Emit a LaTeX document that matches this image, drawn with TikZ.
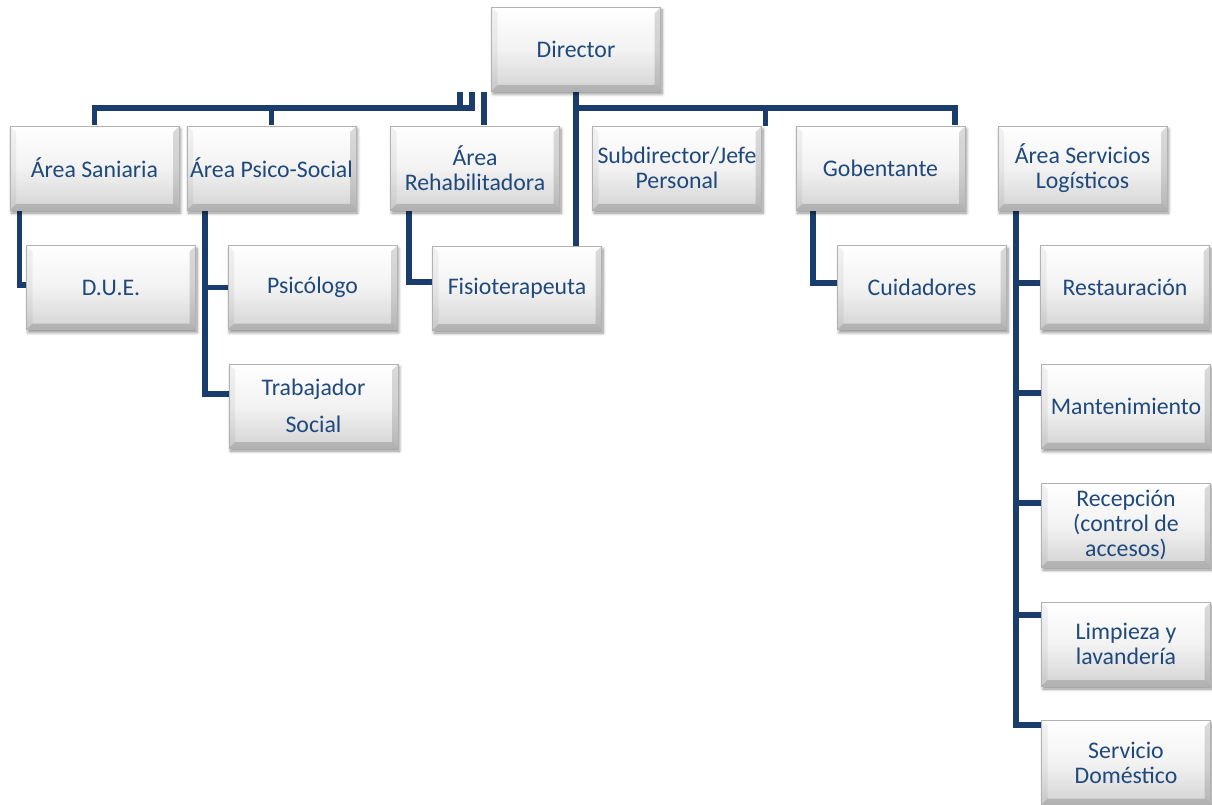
\documentclass[tikz,border=0pt]{standalone}
\usepackage{fontspec}
\setmainfont{Carlito}
\usetikzlibrary{shadows.blur,backgrounds}
\definecolor{txtblue}{HTML}{1F497D}
\definecolor{linenavy}{HTML}{1B3D6D}
\begin{document}
\begin{tikzpicture}[x=1pt,y=-1pt,
  orgbox/.style={rectangle, minimum width=169pt, minimum height=84pt, inner sep=0pt,
    align=center, text=txtblue, font=\fontsize{23.8}{25}\selectfont,
    top color=white, bottom color=black!17, middle color=black!5,
    draw=black!30, line width=0.6pt,
    blur shadow={shadow xshift=1.5pt, shadow yshift=-3pt, shadow blur radius=3pt, shadow blur steps=6, shadow opacity=45},
    path picture={
      \fill[black,opacity=0.14] (path picture bounding box.north east) -- (path picture bounding box.south east)
        -- ([shift={(-6pt,6pt)}]path picture bounding box.south east) -- ([shift={(-6pt,-6pt)}]path picture bounding box.north east) -- cycle;
      \fill[black,opacity=0.16] (path picture bounding box.south west) -- (path picture bounding box.south east)
        -- ([shift={(-6pt,6pt)}]path picture bounding box.south east) -- ([shift={(6pt,6pt)}]path picture bounding box.south west) -- cycle;
      \fill[white,opacity=0.7] (path picture bounding box.north west) -- (path picture bounding box.north east)
        -- ([shift={(-6pt,-6pt)}]path picture bounding box.north east) -- ([shift={(6pt,-6pt)}]path picture bounding box.north west) -- cycle;
      \fill[black,opacity=0.05] (path picture bounding box.north west) -- (path picture bounding box.south west)
        -- ([shift={(6pt,6pt)}]path picture bounding box.south west) -- ([shift={(6pt,-6pt)}]path picture bounding box.north west) -- cycle;
    }},
  conn/.style={draw=linenavy, line width=5.5pt, line join=miter}
]
\useasboundingbox (0,0) rectangle (1212,805);

\coordinate (busL) at (472,108);
\coordinate (tickA) at (460,108);
\coordinate (tickAt) at (460,92);
\coordinate (tickBt) at (472,92);
\coordinate (tickC) at (484,92);
\coordinate (busR) at (955,108);
\coordinate (busM) at (765.5,108);
\coordinate (busD) at (576,108);

% nodes
\node[orgbox] (Director) at (576,49) {Director};
\node[orgbox] (Saniaria) at (94.5,168) {Área Saniaria};
\node[orgbox] (PsicoSocial) at (271.5,168) {Área Psico-Social};
\node[orgbox] (Rehab) at (475,168) {Área\\Rehabilitadora};
\node[orgbox] (Subdir) at (677,168) {Subdirector/Jefe\\Personal};
\node[orgbox] (Gobentante) at (880.5,168) {Gobentante};
\node[orgbox] (Servicios) at (1082.5,168) {Área Servicios\\Logísticos};
\node[orgbox] (DUE) at (111,287.5) {D.U.E.};
\node[orgbox] (Psicologo) at (312.5,287.5) {Psicólogo};
\node[orgbox] (Fisio) at (517,288) {Fisioterapeuta};
\node[orgbox] (Cuidadores) at (922,287.5) {Cuidadores};
\node[orgbox] (Restauracion) at (1125,287.5) {Restauración};
\node[orgbox] (Trabajador) at (313.5,406) {Trabajador\\[12pt]Social};
\node[orgbox] (Mantenimiento) at (1126,406.5) {Mantenimiento};
\node[orgbox] (Recepcion) at (1126,525) {Recepción\\(control de\\accesos)};
\node[orgbox] (Limpieza) at (1126,644) {Limpieza y\\lavandería};
\node[orgbox] (Servicio) at (1126,762.5) {Servicio\\Doméstico};

\begin{scope}[on background layer]
% top-left bus
\draw[conn] (Saniaria.north) |- (busL) -- (tickBt);
\draw[conn] (PsicoSocial.north) -- (PsicoSocial.north |- busL);
\draw[conn] (tickA) -- (tickAt);
\draw[conn] (tickC) -- (tickC |- Rehab.north);
% director trunk and right bus
\draw[conn] (Director.south) -- (Director.south |- Fisio.north);
\draw[conn] (busD) -- (busR) -- (busR |- Gobentante.north);
\draw[conn] (busM) -- (busM |- Subdir.north);
% sub-branches
\draw[conn] ([xshift=-75pt]Saniaria.south) |- ([yshift=2.5pt]DUE.west);
\coordinate (psx) at ([xshift=-66.5pt]PsicoSocial.south);
\draw[conn] (psx) |- ([yshift=12pt]Trabajador.west);
\draw[conn] (Psicologo.west) -- (Psicologo.west -| psx);
\draw[conn] ([xshift=-66pt]Rehab.south) |- ([yshift=6pt]Fisio.west);
\draw[conn] ([xshift=-67.5pt]Gobentante.south) |- ([yshift=4.5pt]Cuidadores.west);
\coordinate (svx) at ([xshift=-66.5pt]Servicios.south);
\draw[conn] (svx) |- ([yshift=37.5pt]Servicio.west);
\draw[conn] ([yshift=4.5pt]Restauracion.west) -- ([yshift=4.5pt]Restauracion.west -| svx);
\draw[conn] ([yshift=13.5pt]Mantenimiento.west) -- ([yshift=13.5pt]Mantenimiento.west -| svx);
\draw[conn] ([yshift=22pt]Recepcion.west) -- ([yshift=22pt]Recepcion.west -| svx);
\draw[conn] ([yshift=29pt]Limpieza.west) -- ([yshift=29pt]Limpieza.west -| svx);
\end{scope}
\end{tikzpicture}
\end{document}
